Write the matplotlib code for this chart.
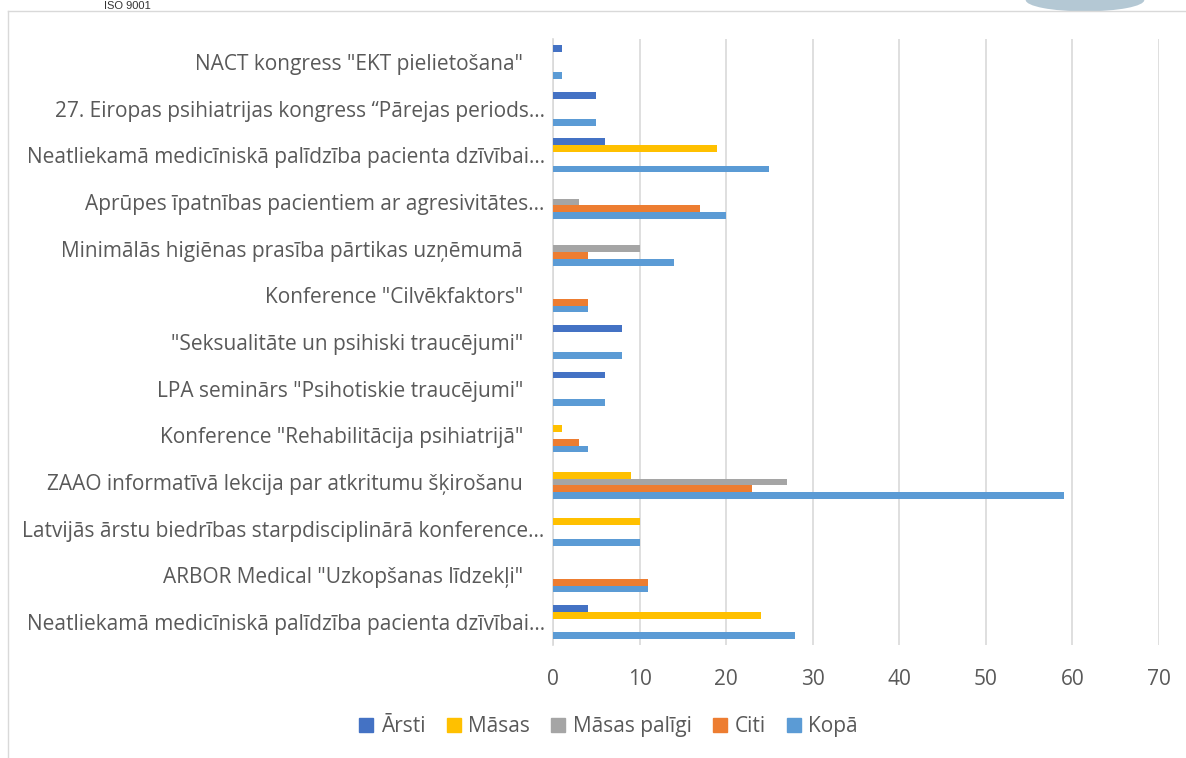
import numpy as np
import matplotlib.pyplot as plt
from matplotlib.patches import Ellipse
from matplotlib.lines import Line2D

plt.rcParams['font.family'] = ['Open Sans', 'DejaVu Sans']

# kategorijas (no augšas uz leju)
categories = [
    'NACT kongress "EKT pielietošana"',
    '27. Eiropas psihiatrijas kongress “Pārejas periods…',
    'Neatliekamā medicīniskā palīdzība pacienta dzīvībai…',
    'Aprūpes īpatnības pacientiem ar agresivitātes…',
    'Minimālās higiēnas prasība pārtikas uzņēmumā',
    'Konference "Cilvēkfaktors"',
    '"Seksualitāte un psihiski traucējumi"',
    'LPA seminārs "Psihotiskie traucējumi"',
    'Konference "Rehabilitācija psihiatrijā"',
    'ZAAO informatīvā lekcija par atkritumu šķirošanu',
    'Latvijās ārstu biedrības starpdisciplinārā konference…',
    'ARBOR Medical "Uzkopšanas līdzekļi"',
    'Neatliekamā medicīniskā palīdzība pacienta dzīvībai…',
]
arsti = [1, 5, 6, 0, 0, 0, 8, 6, 0, 0, 0, 0, 4]
masas = [0, 0, 19, 0, 0, 0, 0, 0, 1, 9, 10, 0, 24]
masas_paligi = [0, 0, 0, 3, 10, 0, 0, 0, 0, 27, 0, 0, 0]
citi = [0, 0, 0, 17, 4, 4, 0, 0, 3, 23, 0, 11, 0]
kopa = [1, 5, 25, 20, 14, 4, 8, 6, 4, 59, 10, 11, 28]

series_names = ['Ārsti', 'Māsas', 'Māsas palīgi', 'Citi', 'Kopā']
series_vals = [arsti, masas, masas_paligi, citi, kopa]
colors = ['#4472C4', '#FFC000', '#A5A5A5', '#ED7D31', '#5B9BD5']
text_color = '#595959'

fig = plt.figure(figsize=(11.86, 7.58), dpi=100)
ax = fig.add_axes([0.4663, 0.1487, 0.5109, 0.8002])

n = len(categories)
y = np.arange(n)
bar_h = 0.146
for i, (name, vals, col) in enumerate(zip(series_names, series_vals, colors)):
    offs = (i - 2) * bar_h
    ax.barh(y + offs, vals, height=bar_h, color=col, label=name, zorder=3)

ax.set_ylim(n - 0.5, -0.5)
ax.set_xlim(0, 70)
ax.set_xticks(range(0, 71, 10))
ax.set_yticks(y)
# nesaīsinātās etiķetes Excel novieto nedaudz pa kreisi
ax.set_yticklabels([c if c.endswith('…') else c + '    ' for c in categories])
ax.tick_params(axis='both', length=0, labelsize=15, colors=text_color)
ax.tick_params(axis='x', pad=17)
ax.tick_params(axis='y', pad=6)
ax.grid(axis='x', color='#D9D9D9', linewidth=1.2, zorder=0)
for s in ['top', 'right', 'bottom']:
    ax.spines[s].set_visible(False)
ax.spines['left'].set_color('#D9D9D9')
ax.spines['left'].set_linewidth(1.2)

handles = [Line2D([], [], linestyle='none', marker='s', markersize=10,
                  markerfacecolor=c, markeredgecolor=c, label=nm)
           for nm, c in zip(series_names, colors)]
leg = fig.legend(handles=handles, loc='center', bbox_to_anchor=(0.513, 0.041), ncol=5,
                 frameon=False, fontsize=15, handlelength=0.7, handletextpad=0.35,
                 columnspacing=1.0)
for t in leg.get_texts():
    t.set_color(text_color)

# rāmis ap diagrammu
fig.add_artist(plt.Line2D([8 / 1186, 8 / 1186], [0, 1 - 11 / 758], color='#D9D9D9',
                          linewidth=1, transform=fig.transFigure))
fig.add_artist(plt.Line2D([8 / 1186, 1], [1 - 11 / 758, 1 - 11 / 758], color='#D9D9D9',
                          linewidth=1, transform=fig.transFigure))

# logotipa fragmenti augšā
fig.text(0.088, 1 - 11 / 758, 'ISO 9001', fontsize=8, color='#333333', ha='left',
         va='bottom', family=['Liberation Sans', 'DejaVu Sans'])
fig.add_artist(Ellipse((1085 / 1186, 1.0), 0.1, 0.03, transform=fig.transFigure,
                       facecolor='#B4C8D4', edgecolor='none'))

plt.savefig('out.png', dpi=100)
